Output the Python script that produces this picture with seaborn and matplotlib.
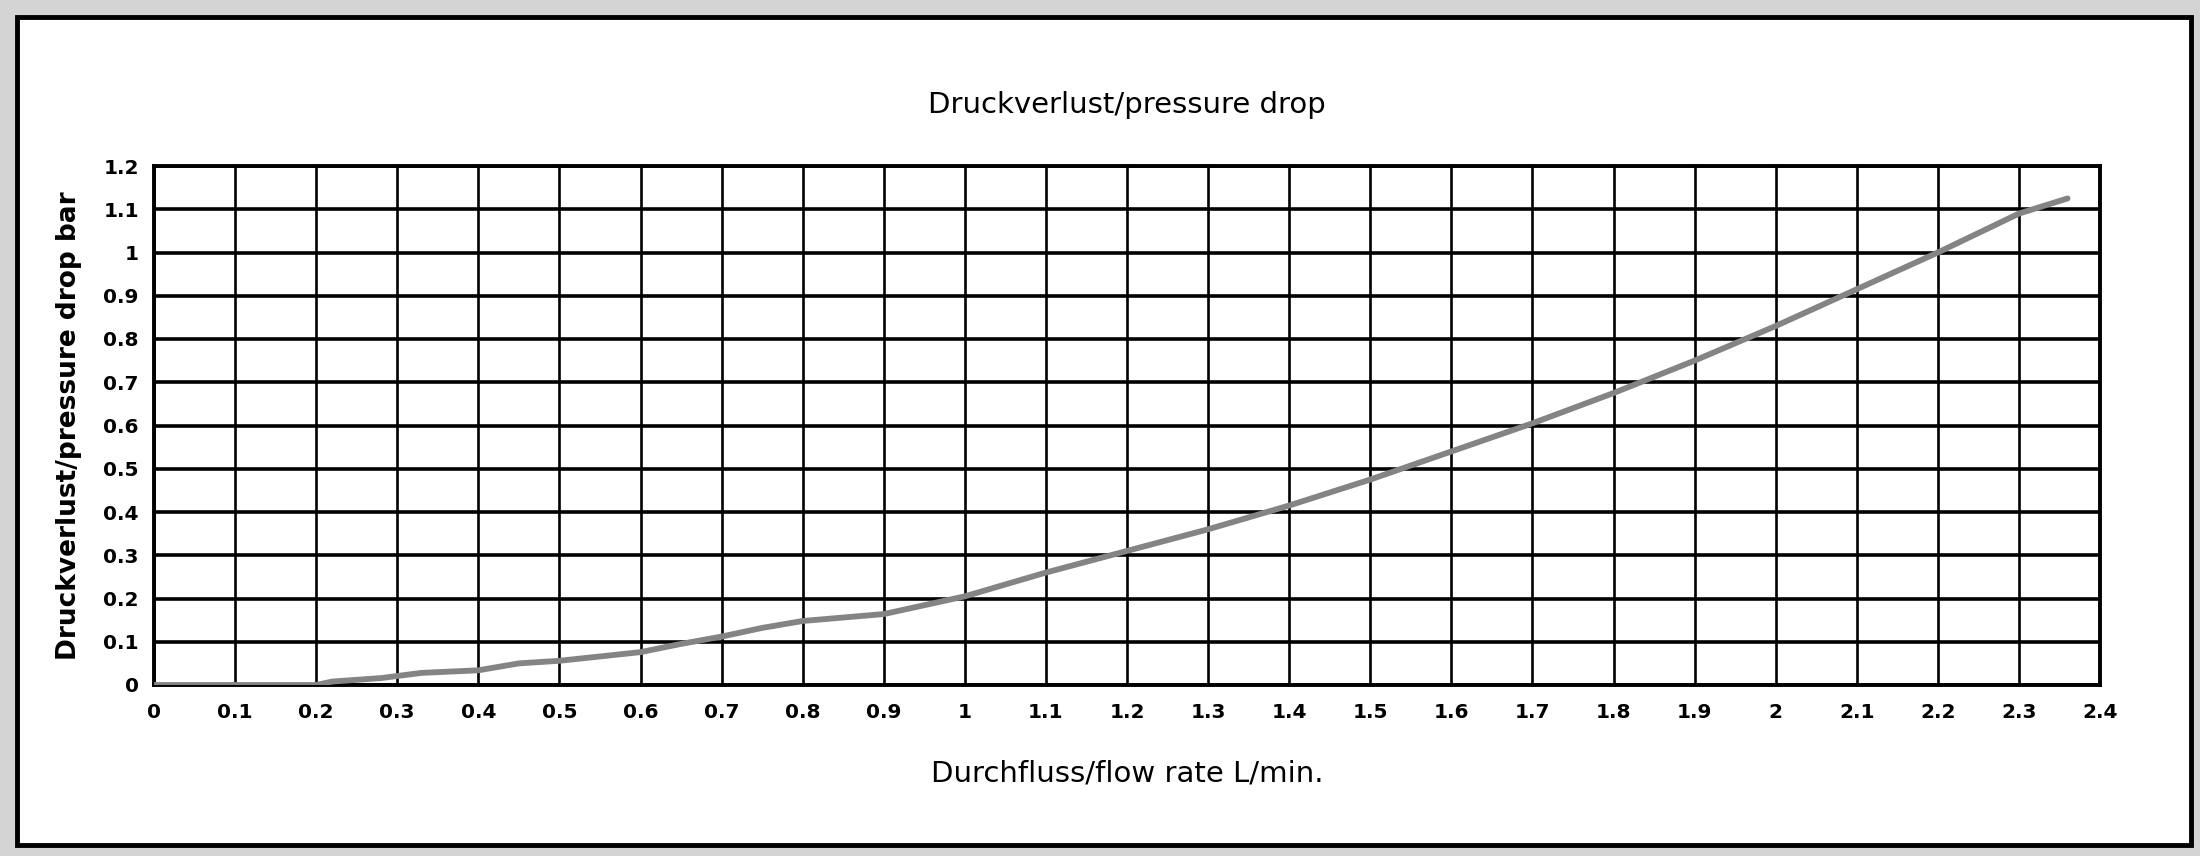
import matplotlib
matplotlib.use("Agg")
import matplotlib.pyplot as plt
from matplotlib.patches import Rectangle
import seaborn as sns
import pandas as pd

# flow rate (L/min) vs pressure drop (bar)
flow_rate = [0.0, 0.1, 0.2, 0.22, 0.28, 0.33, 0.4, 0.45, 0.5, 0.55, 0.6, 0.65,
             0.7, 0.75, 0.8, 0.9, 1.0, 1.1, 1.2, 1.3, 1.4, 1.5, 1.6, 1.7, 1.8,
             1.9, 2.0, 2.1, 2.2, 2.3, 2.36]
pressure_drop = [0.0, 0.0, 0.0, 0.008, 0.016, 0.028, 0.034, 0.05, 0.056, 0.066,
                 0.076, 0.095, 0.112, 0.132, 0.148, 0.164, 0.205, 0.26, 0.31,
                 0.36, 0.415, 0.475, 0.54, 0.605, 0.675, 0.75, 0.83, 0.915,
                 1.0, 1.09, 1.125]

x_ticks = [round(0.1 * i, 1) for i in range(25)]
x_tick_labels = ["0", "0.1", "0.2", "0.3", "0.4", "0.5", "0.6", "0.7", "0.8", "0.9",
                 "1", "1.1", "1.2", "1.3", "1.4", "1.5", "1.6", "1.7", "1.8", "1.9",
                 "2", "2.1", "2.2", "2.3", "2.4"]
y_ticks = [round(0.1 * i, 1) for i in range(13)]
y_tick_labels = ["0", "0.1", "0.2", "0.3", "0.4", "0.5", "0.6", "0.7", "0.8", "0.9",
                 "1", "1.1", "1.2"]

df = pd.DataFrame({"flow": flow_rate, "drop": pressure_drop})

sns.set_style("white")
plt.rcParams["font.family"] = ["DejaVu Sans"]
plt.rcParams["text.color"] = "black"
plt.rcParams["axes.labelcolor"] = "black"
plt.rcParams["xtick.color"] = "black"
plt.rcParams["ytick.color"] = "black"

fig = plt.figure(figsize=(22, 8.56), dpi=100)
fig.patch.set_facecolor("#d4d4d4")

# white sheet with black frame, behind the axes
panel = Rectangle((17 / 2200, 1 - 845 / 856), (2191 - 17) / 2200, (845 - 17) / 856,
                  transform=fig.transFigure, facecolor="white", edgecolor="black",
                  linewidth=3.5, zorder=-5)
fig.add_artist(panel)

ax = fig.add_axes([154 / 2200, 1 - 685 / 856, (2100 - 154) / 2200, (685 - 166) / 856])
ax.set_facecolor("white")

sns.lineplot(df, x="flow", y="drop", color="#848484", linewidth=4.2, ax=ax, zorder=3)

ax.set_xlim(0, 2.4)
ax.set_ylim(0, 1.2)
ax.set_xticks(x_ticks, x_tick_labels)
ax.set_yticks(y_ticks, y_tick_labels)

ax.grid(True, axis="x", color="black", linewidth=1.9)
ax.grid(True, axis="y", color="black", linewidth=2.6)
ax.set_axisbelow(True)
for spine in ax.spines.values():
    spine.set_visible(True)
    spine.set_color("black")
    spine.set_linewidth(2.8)

ax.tick_params(axis="x", direction="out", length=11, width=1.5, color="black",
               labelsize=14.5, pad=2)
ax.tick_params(axis="y", length=0, labelsize=14.5, pad=11)
for lab in ax.get_xticklabels() + ax.get_yticklabels():
    lab.set_fontweight("bold")

ax.set_title("Druckverlust/pressure drop", fontsize=21, pad=38)
ax.set_xlabel("Durchfluss/flow rate L/min.", fontsize=21, labelpad=27)
ax.set_ylabel("Druckverlust/pressure drop bar", fontsize=19, fontweight="bold", labelpad=15)

fig.savefig("out.png", dpi=100, facecolor=fig.get_facecolor())
